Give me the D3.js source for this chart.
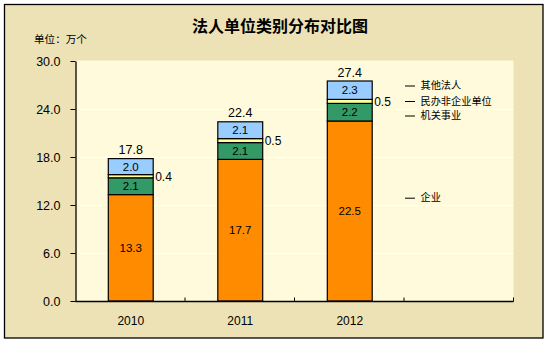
<!DOCTYPE html>
<html><head><meta charset="utf-8">
<script src="https://cdn.jsdelivr.net/npm/d3@7"></script>
<style>body{margin:0;background:#fff;}svg{display:block;}</style>
</head><body>
<script>
const categories = ["2010", "2011", "2012"];
const seriesNames = ["企业", "机关事业", "民办非企业单位", "其他法人"];
const enterprise = [13.3, 17.7, 22.5];
const institution = [2.1, 2.1, 2.2];
const privateNonEnterprise = [0.4, 0.5, 0.5];
const otherLegal = [2.0, 2.1, 2.3];
const totalLabels = ["17.8", "22.4", "27.4"];
const yTicks = [0, 6, 12, 18, 24, 30];
const title = "法人单位类别分布对比图";
const unitLabel = "单位：万个";

(function () {
const W = 549, H = 343;
const svg = d3.select("body").append("svg").attr("width", W).attr("height", H);
const latin = "'Liberation Sans', Arial, sans-serif";
const cjk = "'Noto Sans CJK SC', 'Noto Sans', sans-serif";
const colors = ["#FF8C00", "#339966", "#FFFF99", "#99CCFF"];

// outer background + border
svg.append("rect").attr("x", 4.5).attr("y", 4.5).attr("width", 538.5).attr("height", 333.5)
  .attr("fill", "#EDE2B5").attr("stroke", "#000").attr("stroke-width", 1.3);

const pLeft = 75.5, pRight = 513.5, pTop = 61, pBottom = 301;
const x = d3.scaleBand().domain([...categories, ""]).range([pLeft, pRight])
  .paddingInner(0.59).paddingOuter(0.295);
const y = d3.scaleLinear().domain([0, 30]).range([pBottom, pTop]);

// plot background
svg.append("rect").attr("x", pLeft).attr("y", pTop - 0.5).attr("width", pRight - pLeft).attr("height", pBottom - pTop + 0.5)
  .attr("fill", "#FFFADC");

// gridlines
svg.append("g").selectAll("line").data(yTicks.filter(d => d > 0 && d < 30)).join("line")
  .attr("x1", pLeft).attr("x2", pRight)
  .attr("y1", d => Math.round(y(d)) + 0.5).attr("y2", d => Math.round(y(d)) + 0.5)
  .attr("stroke", "#fff").attr("stroke-width", 1);

// stacked bars
const rows = categories.map((c, i) => ({
  cat: c, s0: enterprise[i], s1: institution[i], s2: privateNonEnterprise[i], s3: otherLegal[i]
}));
const keys = ["s0", "s1", "s2", "s3"];
const stack = d3.stack().keys(keys)(rows);

const gBars = svg.append("g");
stack.forEach((layer, li) => {
  gBars.append("g").selectAll("rect").data(layer).join("rect")
    .attr("x", d => x(d.data.cat) + 0.5)
    .attr("width", x.bandwidth())
    .attr("y", d => y(d[1]))
    .attr("height", d => y(d[0]) - y(d[1]))
    .attr("fill", colors[li]).attr("stroke", "#000").attr("stroke-width", 1.2);
});

// segment labels
stack.forEach((layer, li) => {
  layer.forEach(d => {
    const v = d[1] - d[0];
    const txt = d.data[keys[li]].toFixed(1);
    if (v >= 1) {
      svg.append("text").attr("x", x(d.data.cat) + x.bandwidth() / 2 + 0.5)
        .attr("y", (y(d[0]) + y(d[1])) / 2 + 4)
        .attr("text-anchor", "middle").attr("font-family", latin).attr("font-size", 11.5)
        .attr("fill", "#000").text(txt);
    } else {
      svg.append("text").attr("x", x(d.data.cat) + x.bandwidth() + 2.5)
        .attr("y", (y(d[0]) + y(d[1])) / 2 + 4.5)
        .attr("text-anchor", "start").attr("font-family", latin).attr("font-size", 12)
        .attr("fill", "#000").text(txt);
    }
  });
});

// totals
svg.append("g").selectAll("text").data(rows).join("text")
  .attr("x", d => x(d.cat) + x.bandwidth() / 2 + 0.5)
  .attr("y", (d, i) => y(stack[3][i][1]) - 4.5)
  .attr("text-anchor", "middle").attr("font-family", latin).attr("font-size", 12.5)
  .attr("fill", "#000").text((d, i) => totalLabels[i]);

// y axis
const yAxis = svg.append("g").attr("transform", `translate(${pLeft},0)`)
  .call(d3.axisLeft(y).tickValues(yTicks).tickFormat(d3.format(".1f")).tickSize(5).tickSizeOuter(0));
yAxis.select(".domain").attr("stroke", "#000").attr("stroke-width", 1.3);
yAxis.selectAll(".tick line").attr("stroke", "#000");
yAxis.selectAll(".tick text").attr("font-family", latin).attr("font-size", 12.5).attr("fill", "#000")
  .attr("x", -15).attr("dy", "0.35em");

// x axis (ticks at band boundaries, pointing up)
const xAxis = svg.append("g").attr("transform", `translate(0,${pBottom})`);
xAxis.append("line").attr("x1", pLeft).attr("x2", pRight).attr("y1", 0.5).attr("y2", 0.5)
  .attr("stroke", "#000").attr("stroke-width", 1.3);
const bounds = x.domain().map(c => x(c) + x.bandwidth() + x.step() * x.paddingInner() / 2);
xAxis.selectAll("line.tk").data(bounds).join("line").attr("class", "tk")
  .attr("x1", d => d).attr("x2", d => d).attr("y1", 0.5).attr("y2", -3.5)
  .attr("stroke", "#000").attr("stroke-width", 1);
xAxis.selectAll("text").data(categories).join("text")
  .attr("x", d => x(d) + x.bandwidth() / 2 + 0.5).attr("y", 23.5)
  .attr("text-anchor", "middle").attr("font-family", latin).attr("font-size", 12).attr("fill", "#000")
  .text(d => d);

// title & unit
svg.append("text").attr("x", 280).attr("y", 32).attr("text-anchor", "middle")
  .attr("font-family", cjk).attr("font-weight", "bold").attr("font-size", 16).attr("fill", "#000").text(title);
svg.append("text").attr("x", 34).attr("y", 43).attr("font-family", cjk).attr("font-size", 10.6)
  .attr("fill", "#000").text(unitLabel);

// legend (labels beside the stack)
const legendY = [197.7, 115.5, 101, 85.5];
const gLeg = svg.append("g");
seriesNames.forEach((n, i) => {
  gLeg.append("line").attr("x1", 405).attr("x2", 415).attr("y1", legendY[i] + 0.5).attr("y2", legendY[i] + 0.5)
    .attr("stroke", "#000").attr("stroke-width", 1);
  gLeg.append("text").attr("x", 420.5).attr("y", legendY[i] + 3.7).attr("font-family", cjk)
    .attr("font-size", 10.2).attr("fill", "#000").text(n);
});
})();
</script>
</body></html>
